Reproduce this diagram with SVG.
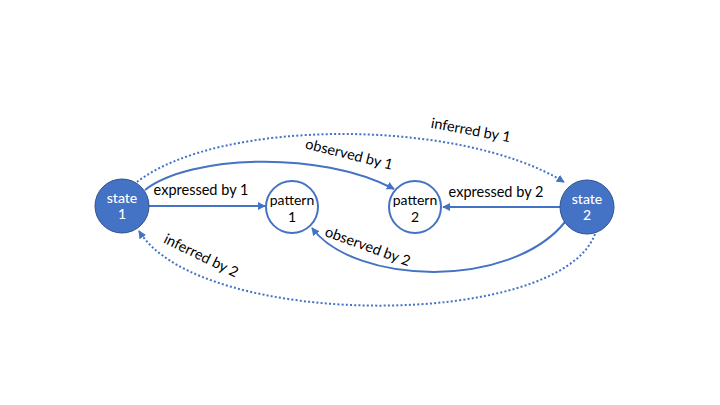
<svg xmlns="http://www.w3.org/2000/svg" width="720" height="405" viewBox="0 0 720 405">
<defs>
<style>
.state{fill:#4472C4;stroke:#2F528F;stroke-width:1}
.pattern{fill:#fff;stroke:#4472C4;stroke-width:2}
.ntext{font-family:Lato,"Open Sans",sans-serif;font-size:14px;text-anchor:middle}
.st{fill:#fff;font-weight:500}
.pt{fill:#000}
.edge{fill:none;stroke:#4472C4;stroke-width:2}
.dot{stroke-dasharray:2 2.2}
.lbl{font-family:Lato,"Open Sans",sans-serif;font-size:14.5px;fill:#000;text-anchor:middle}
</style>
<marker id="ah" viewBox="0 0 10 10" refX="9" refY="5" markerWidth="8" markerHeight="8" markerUnits="userSpaceOnUse" orient="auto">
<path d="M0,0 L10,5 L0,10 z" fill="#4472C4"/>
</marker>
</defs>
<rect width="720" height="405" fill="#fff"/>
<g id="connectors">
<path class="edge" d="M149,206 L265,206" marker-end="url(#ah)"/>
<path class="edge" d="M560,207 L443,207" marker-end="url(#ah)"/>
<path class="edge" d="M145,190 C190,155 320,150 394,189" marker-end="url(#ah)"/>
<path class="edge" d="M565,222 C510,290 355,285 312,228" marker-end="url(#ah)"/>
<path class="edge dot" d="M137,182 C220,118 460,118 564,182" marker-end="url(#ah)"/>
<path class="edge dot" d="M595,234 C560,330 200,330 139,231" marker-end="url(#ah)"/>
</g>
<g id="labels">
<text class="lbl" x="201" y="195">expressed by 1</text>
<text class="lbl" x="496" y="197">expressed by 2</text>
<text class="lbl" transform="translate(348,159) rotate(14)">observed by 1</text>
<text class="lbl" transform="translate(470,135) rotate(10.5)">inferred by 1</text>
<text class="lbl" transform="translate(366,251) rotate(20)">observed by 2</text>
<text class="lbl" transform="translate(199,260) rotate(26)">inferred by 2</text>
</g>
<g id="state1">
<circle class="state" cx="122" cy="206" r="27"/>
<text class="ntext st" x="122" y="203">state</text>
<text class="ntext st" x="122" y="219">1</text>
</g>
<g id="pattern1">
<circle class="pattern" cx="292" cy="207" r="26"/>
<text class="ntext pt" x="292" y="205">pattern</text>
<text class="ntext pt" x="292" y="222">1</text>
</g>
<g id="pattern2">
<circle class="pattern" cx="415" cy="207" r="26"/>
<text class="ntext pt" x="415" y="205">pattern</text>
<text class="ntext pt" x="415" y="222">2</text>
</g>
<g id="state2">
<circle class="state" cx="587" cy="207" r="27"/>
<text class="ntext st" x="587" y="204">state</text>
<text class="ntext st" x="587" y="220">2</text>
</g>
</svg>
